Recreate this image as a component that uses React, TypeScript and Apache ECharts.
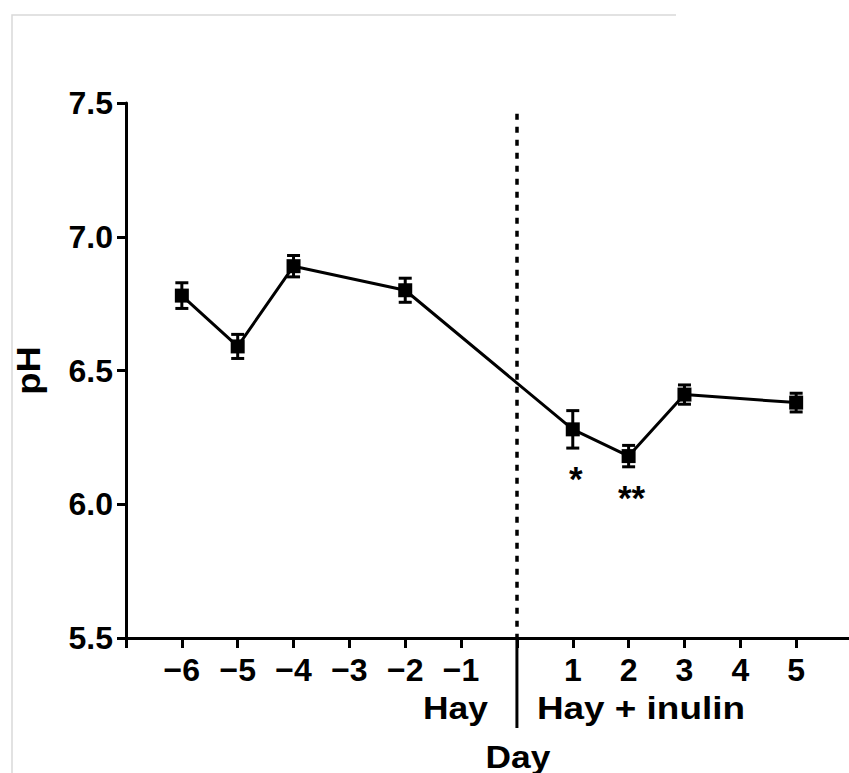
import React, { useEffect, useRef } from "react";
import * as echarts from "echarts";

// Ruminal pH by day, before (hay) and after (hay + inulin) the diet switch
const days = [-6, -5, -4, -2, 1, 2, 3, 5];
const phMean = [6.78, 6.59, 6.89, 6.8, 6.28, 6.18, 6.41, 6.38];
const phSem = [0.048, 0.045, 0.04, 0.045, 0.07, 0.04, 0.036, 0.035];
const sigDays = [1, 2];
const sigMarks = ["*", "**"];
const phaseLabels = ["Hay", "Hay + inulin"];
const switchDay = 0;
const yMin = 5.5;
const yMax = 7.5;
const dashTop = 7.46;

const FONT = "'Liberation Sans', Arial, Helvetica, sans-serif";
const INK = "#000";

function dayLabel(v: number): string {
  if (v <= -7 || v === 0 || v >= 6) return "";
  return v < 0 ? "\u2212" + Math.abs(v) : String(v);
}

export default function App() {
  const ref = useRef<HTMLDivElement>(null);

  useEffect(() => {
    if (!ref.current) return;
    const chart = echarts.init(ref.current, null, { renderer: "svg" });

    const points = days.map((d, i) => [d, phMean[i]]);
    const bars = days.map((d, i) => [d, phMean[i] - phSem[i], phMean[i] + phSem[i]]);
    const sig = sigDays.map((d) => {
      const i = days.indexOf(d);
      return [d, phMean[i] - phSem[i]];
    });

    chart.setOption({
      animation: false,
      backgroundColor: "#fff",
      grid: { left: 126, top: 103, bottom: 135, right: 0 },
      xAxis: {
        type: "value",
        min: -7,
        max: 6,
        interval: 1,
        splitLine: { show: false },
        axisLine: { show: true, onZero: false, lineStyle: { color: INK, width: 3 } },
        axisTick: { show: true, length: 10, lineStyle: { color: INK, width: 3 } },
        axisLabel: {
          formatter: dayLabel,
          margin: 16,
          color: INK,
          fontFamily: FONT,
          fontWeight: "bold",
          fontSize: 32,
          showMinLabel: true,
          showMaxLabel: true,
        },
      },
      yAxis: {
        type: "value",
        min: yMin,
        max: yMax,
        interval: 0.5,
        splitLine: { show: false },
        axisLine: { show: true, onZero: false, lineStyle: { color: INK, width: 3 } },
        axisTick: { show: true, length: 9, lineStyle: { color: INK, width: 3 } },
        axisLabel: {
          formatter: (v: number) => v.toFixed(1),
          margin: 13,
          color: INK,
          fontFamily: FONT,
          fontWeight: "bold",
          fontSize: 32,
        },
      },
      series: [
        {
          type: "line",
          data: points,
          symbol: "rect",
          symbolSize: 14,
          lineStyle: { color: INK, width: 3 },
          itemStyle: { color: INK },
          z: 3,
          markLine: {
            silent: true,
            symbol: "none",
            label: { show: false },
            lineStyle: { color: INK, width: 3.5, type: [6, 7] },
            data: [[{ coord: [switchDay, dashTop] }, { coord: [switchDay, yMin] }]],
          },
        },
        {
          type: "custom",
          data: bars,
          z: 4,
          renderItem: (_params: any, api: any) => {
            const lo = api.coord([api.value(0), api.value(1)]);
            const hi = api.coord([api.value(0), api.value(2)]);
            const cap = 6.5;
            const style = { stroke: INK, lineWidth: 3 };
            return {
              type: "group",
              children: [
                { type: "line", shape: { x1: lo[0], y1: lo[1], x2: hi[0], y2: hi[1] }, style },
                { type: "line", shape: { x1: lo[0] - cap, y1: lo[1], x2: lo[0] + cap, y2: lo[1] }, style },
                { type: "line", shape: { x1: hi[0] - cap, y1: hi[1], x2: hi[0] + cap, y2: hi[1] }, style },
              ],
            };
          },
        },
        {
          type: "scatter",
          data: sig,
          symbolSize: 0,
          silent: true,
          itemStyle: { color: INK, opacity: 1 },
          label: {
            show: true,
            position: "bottom",
            distance: 13,
            offset: [3, 0],
            formatter: (p: any) => sigMarks[p.dataIndex],
            color: INK,
            fontFamily: FONT,
            fontWeight: "bold",
            fontSize: 35,
          },
        },
      ],
    });

    const [sx, axisY] = chart.convertToPixel({ gridIndex: 0 }, [switchDay, yMin]);
    const midY = chart.convertToPixel({ gridIndex: 0 }, [switchDay, (yMin + yMax) / 2])[1];
    const textStyle = (text: string, align: string, size: number) => ({
      text,
      fill: INK,
      font: `bold ${size}px ${FONT}`,
      textAlign: align,
      textVerticalAlign: "middle",
    });

    chart.setOption({
      graphic: [
        {
          type: "polyline",
          shape: { points: [[12, 773], [12, 15], [676, 15]] },
          style: { stroke: "#d9d9d9", lineWidth: 1.5, fill: "none" },
          silent: true,
        },
        {
          type: "line",
          shape: { x1: sx, y1: axisY, x2: sx, y2: axisY + 90 },
          style: { stroke: INK, lineWidth: 3 },
          silent: true,
        },
        {
          type: "text",
          x: sx - 29,
          y: axisY + 70,
          scaleX: 1.14,
          style: textStyle(phaseLabels[0], "right", 31),
        },
        {
          type: "text",
          x: sx + 20,
          y: axisY + 70,
          scaleX: 1.19,
          style: textStyle(phaseLabels[1], "left", 31),
        },
        {
          type: "text",
          x: sx + 1,
          y: axisY + 119,
          scaleX: 1.14,
          style: textStyle("Day", "center", 31),
        },
        {
          type: "text",
          x: 29,
          y: midY,
          rotation: Math.PI / 2,
          scaleX: 1.1,
          style: textStyle("pH", "center", 33),
        },
      ],
    });

    return () => chart.dispose();
  }, []);

  return (
    <div style={{ position: "fixed", left: 0, top: 0, width: 849, height: 773, overflow: "hidden", background: "#fff" }}>
      <div ref={ref} style={{ width: 855, height: 773 }} />
    </div>
  );
}
